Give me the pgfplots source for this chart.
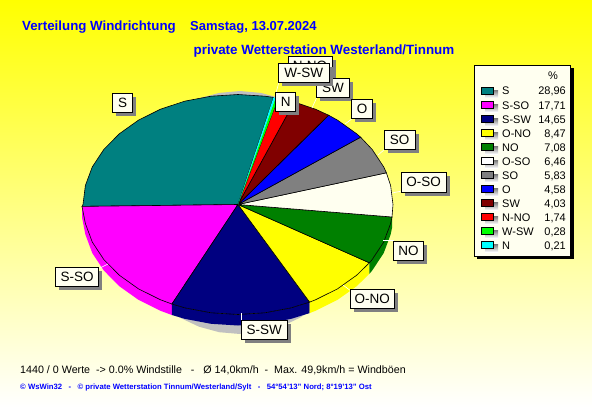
\documentclass[border=0pt]{standalone}
\usepackage{fontspec}
\setmainfont{Liberation Sans}
\usepackage{pgfplots}
\pgfplotsset{compat=1.18}
\definecolor{cream}{HTML}{FFFFF0}
\definecolor{shade}{HTML}{C0C0C0}
\definecolor{tealw}{HTML}{008080}
\definecolor{navyw}{HTML}{000080}
\definecolor{greenw}{HTML}{008000}
\definecolor{grayw}{HTML}{808080}
\definecolor{maroonw}{HTML}{800000}
\definecolor{textblue}{HTML}{0000FF}
\definecolor{magw}{HTML}{FF00FF}
\definecolor{yelw}{HTML}{FFFF00}
\definecolor{cyanw}{HTML}{00FFFF}
\definecolor{limew}{HTML}{00FF00}
\definecolor{redw}{HTML}{FF0000}
\definecolor{bluew}{HTML}{0000FF}
\definecolor{midbg}{HTML}{FFFF80}
\definecolor{botbg}{HTML}{FFFFFF}

% pie label box: x1,y1,x2,y2 in picture pixels, then the text
\newcommand{\lbl}[5]{%
  \fill[grayw,xshift=3.5pt,yshift=-3.5pt] (axis cs:#1,#2) rectangle (axis cs:#3,#4);
  \draw[fill=cream,draw=black,line width=0.7pt] (axis cs:#1,#2) rectangle (axis cs:#3,#4)
    node[midway,inner sep=0pt,text=black,font=\fontsize{13.5}{14}\selectfont] {#5};
}
% legend row: y, colour, name, percent
\newcommand{\row}[4]{%
  \fill[shade] (axis cs:485,#1-0.5) rectangle (axis cs:498,#1+7);
  \draw[fill=#2,draw=black,line width=0.7pt] (axis cs:481.3,#1-3.7) rectangle (axis cs:493.7,#1+3.7);
  \node[anchor=base west,inner sep=0pt,font=\fontsize{11}{11}\selectfont] at (axis cs:502,#1+4) {#3};
  \node[anchor=base east,inner sep=0pt,font=\fontsize{11}{11}\selectfont] at (axis cs:566,#1+4) {#4};
}

\begin{document}
\begin{tikzpicture}
\begin{axis}[
  scale only axis, width=592pt, height=407pt,
  xmin=0, xmax=592, ymin=0, ymax=407, y dir=reverse,
  hide axis, clip=false, no markers,
]
% background
\fill[top color=yelw,bottom color=botbg,middle color=midbg] (axis cs:0,0) rectangle (axis cs:592,407);

% pie shadow
\addplot[fill=shade,draw=none] coordinates {(360,212.5) (317.1,119.4) (300,107.3) (281,98.3) (260.8,92.9) (240,91) (219.2,92.9) (199,98.3) (180,107.3) (162.9,119.4) (120,212.5) (162.9,305.6) (180,317.7) (199,326.7) (219.2,332.2) (240,334) (260.8,332.2) (281,326.7) (300,317.7) (317.1,305.6)} --cycle;

% side of the pie
\addplot[fill=magw,draw=none] coordinates {(82,206.4) (85.4,223.6) (92.3,242.1) (103.8,259.5) (119.3,275.2) (138.4,288.8) (160.5,299.8) (171.9,304) (171.9,315) (160.5,310.8) (138.4,299.8) (119.3,286.2) (103.8,270.5) (92.3,253.1) (85.4,234.6) (82,217.4)} --cycle;
\addplot[fill=navyw,draw=none] coordinates {(171.9,304) (185,307.9) (211.1,312.8) (238,314.5) (264.9,312.8) (291,307.9) (309.6,302.1) (309.6,313.1) (291,318.9) (264.9,323.8) (238,325.5) (211.1,323.8) (185,318.9) (171.9,315)} --cycle;
\addplot[fill=yelw,draw=none] coordinates {(309.6,302.1) (315.5,299.8) (337.6,288.8) (356.7,275.2) (369.4,262.8) (369.4,273.8) (356.7,286.2) (337.6,299.8) (315.5,310.8) (309.6,313.1)} --cycle;
\addplot[fill=greenw,draw=none] coordinates {(369.4,262.8) (372.2,259.5) (383.7,242.1) (390.6,223.6) (392,217) (392,228) (390.6,234.6) (383.7,253.1) (372.2,270.5) (369.4,273.8)} --cycle;

% top of the pie, one sector per direction
\addplot[fill=tealw,draw=black,line width=0.6pt] coordinates {(238,204.5) (273.5,97.4) (264.9,96.2) (238,94.5) (211.1,96.2) (185,101.1) (160.5,109.2) (138.4,120.2) (119.3,133.8) (103.8,149.5) (92.3,166.9) (85.4,185.4) (83,204.5) (82,206.4)} --cycle;
\addplot[fill=magw,draw=black,line width=0.6pt] coordinates {(238,204.5) (82,206.4) (85.4,223.6) (92.3,242.1) (103.8,259.5) (119.3,275.2) (138.4,288.8) (160.5,299.8) (171.9,304)} --cycle;
\addplot[fill=navyw,draw=black,line width=0.6pt] coordinates {(238,204.5) (171.9,304) (185,307.9) (211.1,312.8) (238,314.5) (264.9,312.8) (291,307.9) (309.6,302.1)} --cycle;
\addplot[fill=yelw,draw=black,line width=0.6pt] coordinates {(238,204.5) (309.6,302.1) (315.5,299.8) (337.6,288.8) (356.7,275.2) (369.4,262.8)} --cycle;
\addplot[fill=greenw,draw=black,line width=0.6pt] coordinates {(238,204.5) (369.4,262.8) (372.2,259.5) (383.7,242.1) (390.6,223.6) (392,217)} --cycle;
\addplot[fill=cream,draw=black,line width=0.6pt] coordinates {(238,204.5) (392,217) (393,204.5) (390.6,185.4) (386.4,172.8)} --cycle;
\addplot[fill=grayw,draw=black,line width=0.6pt] coordinates {(238,204.5) (386.4,172.8) (383.7,166.9) (372.2,149.5) (360.6,137.2)} --cycle;
\addplot[fill=bluew,draw=black,line width=0.6pt] coordinates {(238,204.5) (360.6,137.2) (356.7,133.8) (337.6,120.2) (328.6,115.2)} --cycle;
\addplot[fill=maroonw,draw=black,line width=0.6pt] coordinates {(238,204.5) (328.6,115.2) (315.5,109.2) (294.2,102)} --cycle;
\addplot[fill=redw,draw=black,line width=0.6pt] coordinates {(238,204.5) (294.2,102) (291,101.1) (278.1,98.3)} --cycle;
\addplot[fill=limew,draw=none] coordinates {(238,204.5) (278.1,98.3) (275.5,97.8)} --cycle;
\addplot[fill=cyanw,draw=none] coordinates {(238,204.5) (275.5,97.8) (273.5,97.4)} --cycle;

% leader lines
\draw[white,line width=0.6pt] (axis cs:135,115) -- (axis cs:132,112);
\draw[white,line width=0.6pt] (axis cs:108,264) -- (axis cs:98,269);
\draw[white,line width=0.6pt] (axis cs:241.3,313) -- (axis cs:241.3,321);
\draw[white,line width=0.6pt] (axis cs:343,285) -- (axis cs:351,291);
\draw[white,line width=0.6pt] (axis cs:383,240) -- (axis cs:394,240);
\draw[white,line width=0.6pt] (axis cs:392,193) -- (axis cs:402,191);
\draw[white,line width=0.6pt] (axis cs:378,155) -- (axis cs:385,149);
\draw[white,line width=0.6pt] (axis cs:345,124) -- (axis cs:353,118);
\draw[white,line width=0.6pt] (axis cs:312,108) -- (axis cs:317,97);
\draw[white,line width=0.6pt] (axis cs:276,93) -- (axis cs:279,82);

% pie labels
\lbl{288}{56}{332}{75}{N-NO}
\lbl{316.7}{78.3}{349.3}{97.3}{SW}
\lbl{278.3}{63.3}{329}{82.3}{W-SW}
\lbl{351.3}{99.3}{372.7}{118.7}{O}
\lbl{275.7}{92.3}{295.7}{111.7}{N}
\lbl{112.7}{93.3}{132.7}{112.7}{S}
\lbl{384}{130}{415}{149.5}{SO}
\lbl{401}{172.5}{446}{192}{O-SO}
\lbl{393.7}{241.7}{423.3}{260.3}{NO}
\lbl{350.7}{289.3}{394}{308.3}{O-NO}
\lbl{241.3}{320.7}{287.3}{339}{S-SW}
\lbl{55.7}{267.3}{98.7}{286.3}{S-SO}

% legend box
\fill[black,xshift=3pt,yshift=-3pt] (axis cs:474.3,65) rectangle (axis cs:570.7,256);
\draw[fill=cream,draw=black,line width=0.7pt] (axis cs:474.3,65) rectangle (axis cs:570.7,256);
\node[anchor=base,inner sep=0pt,font=\fontsize{11}{11}\selectfont] at (axis cs:553,79) {\%};
\row{90.7}{tealw}{S}{28,96}
\row{105}{magw}{S-SO}{17,71}
\row{119}{navyw}{S-SW}{14,65}
\row{133}{yelw}{O-NO}{8,47}
\row{147}{greenw}{NO}{7,08}
\row{161}{white}{O-SO}{6,46}
\row{175}{grayw}{SO}{5,83}
\row{189}{bluew}{O}{4,58}
\row{203}{maroonw}{SW}{4,03}
\row{217}{redw}{N-NO}{1,74}
\row{231}{limew}{W-SW}{0,28}
\row{245}{cyanw}{N}{0,21}

% titles and footer
\node[anchor=base west,inner sep=0pt,text=textblue,font=\fontsize{13.3}{14}\selectfont\bfseries] at (axis cs:22,30) {Verteilung Windrichtung};
\node[anchor=base west,inner sep=0pt,text=textblue,font=\fontsize{13}{14}\selectfont\bfseries] at (axis cs:190,30) {Samstag, 13.07.2024};
\node[anchor=base west,inner sep=0pt,text=textblue,font=\fontsize{13.4}{14}\selectfont\bfseries] at (axis cs:193.5,54) {private Wetterstation Westerland/Tinnum};
\node[anchor=base west,inner sep=0pt,font=\fontsize{10.7}{11}\selectfont] at (axis cs:20,373) {1440 / 0 Werte\ \ -> 0.0\% Windstille\ \ \ -\ \ \ Ø 14,0km/h\ \ -\ \ Max. 49,9km/h = Windböen};
\node[anchor=base west,inner sep=0pt,text=textblue,font=\fontsize{7.7}{8}\selectfont\bfseries] at (axis cs:20,389) {© WsWin32\ \ \ -\ \ \ © private Wetterstation Tinnum/Westerland/Sylt\ \ \ -\ \ \ 54°54'13" Nord; 8°19'13" Ost};
\end{axis}
\end{tikzpicture}
\end{document}
